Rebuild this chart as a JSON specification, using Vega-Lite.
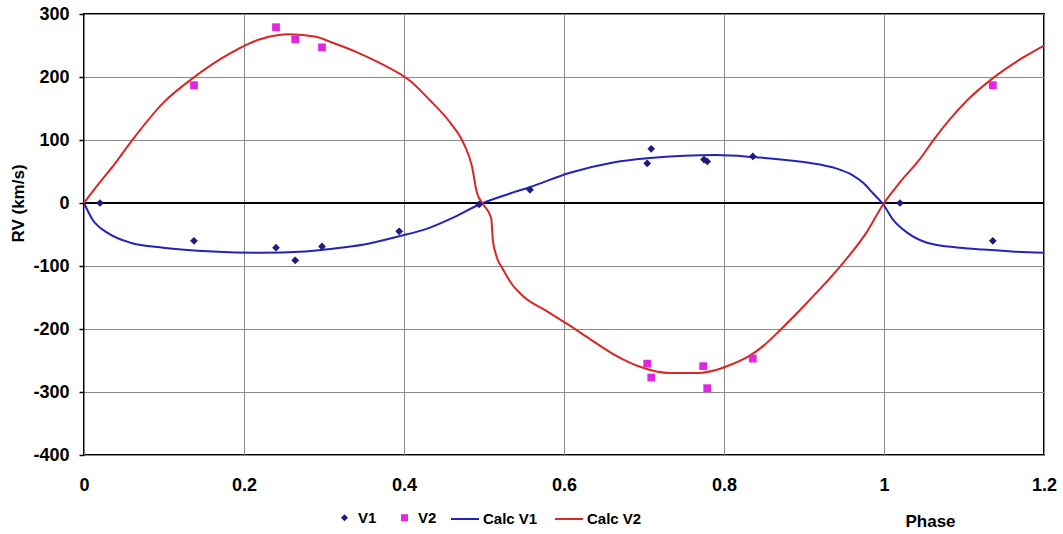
{
  "$schema": "https://vega.github.io/schema/vega-lite/v6.json",
  "width": 960,
  "height": 441,
  "autosize": {"type": "none"},
  "padding": {"left": 84, "top": 14, "right": 19, "bottom": 79},
  "background": "white",
  "config": {
    "font": "Liberation Sans",
    "view": {"stroke": "black", "strokeWidth": 2}
  },
  "data": {
    "values": [
      {"phase": 0.02, "rv": 0, "series": "V1"},
      {"phase": 0.1375, "rv": -60, "series": "V1"},
      {"phase": 0.24, "rv": -71, "series": "V1"},
      {"phase": 0.264, "rv": -91, "series": "V1"},
      {"phase": 0.2975, "rv": -69, "series": "V1"},
      {"phase": 0.394, "rv": -45, "series": "V1"},
      {"phase": 0.494, "rv": -2, "series": "V1"},
      {"phase": 0.5575, "rv": 21, "series": "V1"},
      {"phase": 0.704, "rv": 63, "series": "V1"},
      {"phase": 0.709, "rv": 86, "series": "V1"},
      {"phase": 0.775, "rv": 69, "series": "V1"},
      {"phase": 0.779, "rv": 66, "series": "V1"},
      {"phase": 0.836, "rv": 74, "series": "V1"},
      {"phase": 1.02, "rv": 0, "series": "V1"},
      {"phase": 1.136, "rv": -60, "series": "V1"},
      {"phase": 0.1375, "rv": 187, "series": "V2"},
      {"phase": 0.24, "rv": 279, "series": "V2"},
      {"phase": 0.264, "rv": 260, "series": "V2"},
      {"phase": 0.2975, "rv": 247, "series": "V2"},
      {"phase": 0.704, "rv": -255, "series": "V2"},
      {"phase": 0.709, "rv": -277, "series": "V2"},
      {"phase": 0.774, "rv": -259, "series": "V2"},
      {"phase": 0.779, "rv": -294, "series": "V2"},
      {"phase": 0.836, "rv": -247, "series": "V2"},
      {"phase": 1.136, "rv": 187, "series": "V2"},
      {"phase": 0, "rv": 0, "series": "Calc V1"},
      {"phase": 0.011, "rv": -27, "series": "Calc V1"},
      {"phase": 0.029, "rv": -47, "series": "Calc V1"},
      {"phase": 0.058, "rv": -63, "series": "Calc V1"},
      {"phase": 0.099, "rv": -71, "series": "Calc V1"},
      {"phase": 0.161, "rv": -77, "series": "Calc V1"},
      {"phase": 0.22, "rv": -79, "series": "Calc V1"},
      {"phase": 0.276, "rv": -77, "series": "Calc V1"},
      {"phase": 0.3075, "rv": -73, "series": "Calc V1"},
      {"phase": 0.35, "rv": -66, "series": "Calc V1"},
      {"phase": 0.39, "rv": -54, "series": "Calc V1"},
      {"phase": 0.4325, "rv": -39, "series": "Calc V1"},
      {"phase": 0.46, "rv": -24, "series": "Calc V1"},
      {"phase": 0.495, "rv": -2, "series": "Calc V1"},
      {"phase": 0.53, "rv": 14, "series": "Calc V1"},
      {"phase": 0.557, "rv": 25, "series": "Calc V1"},
      {"phase": 0.6075, "rv": 48, "series": "Calc V1"},
      {"phase": 0.66, "rv": 64, "series": "Calc V1"},
      {"phase": 0.704, "rv": 71, "series": "Calc V1"},
      {"phase": 0.75, "rv": 75, "series": "Calc V1"},
      {"phase": 0.79, "rv": 76, "series": "Calc V1"},
      {"phase": 0.836, "rv": 73, "series": "Calc V1"},
      {"phase": 0.88, "rv": 68, "series": "Calc V1"},
      {"phase": 0.92, "rv": 61, "series": "Calc V1"},
      {"phase": 0.94, "rv": 55, "series": "Calc V1"},
      {"phase": 0.961, "rv": 44, "series": "Calc V1"},
      {"phase": 0.974, "rv": 32, "series": "Calc V1"},
      {"phase": 0.9865, "rv": 15, "series": "Calc V1"},
      {"phase": 0.999, "rv": -2, "series": "Calc V1"},
      {"phase": 1.011, "rv": -26, "series": "Calc V1"},
      {"phase": 1.029, "rv": -47, "series": "Calc V1"},
      {"phase": 1.054, "rv": -63, "series": "Calc V1"},
      {"phase": 1.095, "rv": -71, "series": "Calc V1"},
      {"phase": 1.124, "rv": -74, "series": "Calc V1"},
      {"phase": 1.16, "rv": -77, "series": "Calc V1"},
      {"phase": 1.2, "rv": -79, "series": "Calc V1"},
      {"phase": 0, "rv": 0, "series": "Calc V2"},
      {"phase": 0.02, "rv": 33, "series": "Calc V2"},
      {"phase": 0.036, "rv": 58, "series": "Calc V2"},
      {"phase": 0.061, "rv": 101, "series": "Calc V2"},
      {"phase": 0.099, "rv": 159, "series": "Calc V2"},
      {"phase": 0.137, "rv": 199, "series": "Calc V2"},
      {"phase": 0.174, "rv": 231, "series": "Calc V2"},
      {"phase": 0.22, "rv": 260, "series": "Calc V2"},
      {"phase": 0.2575, "rv": 268, "series": "Calc V2"},
      {"phase": 0.29, "rv": 264, "series": "Calc V2"},
      {"phase": 0.3075, "rv": 256, "series": "Calc V2"},
      {"phase": 0.34, "rv": 240, "series": "Calc V2"},
      {"phase": 0.37, "rv": 222, "series": "Calc V2"},
      {"phase": 0.4075, "rv": 194, "series": "Calc V2"},
      {"phase": 0.4325, "rv": 163, "series": "Calc V2"},
      {"phase": 0.4575, "rv": 128, "series": "Calc V2"},
      {"phase": 0.474, "rv": 96, "series": "Calc V2"},
      {"phase": 0.485, "rv": 58, "series": "Calc V2"},
      {"phase": 0.491, "rv": 17, "series": "Calc V2"},
      {"phase": 0.499, "rv": -2, "series": "Calc V2"},
      {"phase": 0.509, "rv": -24, "series": "Calc V2"},
      {"phase": 0.511, "rv": -58, "series": "Calc V2"},
      {"phase": 0.515, "rv": -82, "series": "Calc V2"},
      {"phase": 0.524, "rv": -106, "series": "Calc V2"},
      {"phase": 0.535, "rv": -129, "series": "Calc V2"},
      {"phase": 0.549, "rv": -148, "series": "Calc V2"},
      {"phase": 0.579, "rv": -172, "series": "Calc V2"},
      {"phase": 0.604, "rv": -192, "series": "Calc V2"},
      {"phase": 0.6325, "rv": -216, "series": "Calc V2"},
      {"phase": 0.666, "rv": -243, "series": "Calc V2"},
      {"phase": 0.695, "rv": -260, "series": "Calc V2"},
      {"phase": 0.7325, "rv": -270, "series": "Calc V2"},
      {"phase": 0.765, "rv": -270, "series": "Calc V2"},
      {"phase": 0.79, "rv": -265, "series": "Calc V2"},
      {"phase": 0.81, "rv": -256, "series": "Calc V2"},
      {"phase": 0.83, "rv": -244, "series": "Calc V2"},
      {"phase": 0.85, "rv": -226, "series": "Calc V2"},
      {"phase": 0.87, "rv": -202, "series": "Calc V2"},
      {"phase": 0.904, "rv": -158, "series": "Calc V2"},
      {"phase": 0.945, "rv": -101, "series": "Calc V2"},
      {"phase": 0.979, "rv": -45, "series": "Calc V2"},
      {"phase": 0.999, "rv": -2, "series": "Calc V2"},
      {"phase": 1.02, "rv": 33, "series": "Calc V2"},
      {"phase": 1.045, "rv": 70, "series": "Calc V2"},
      {"phase": 1.0625, "rv": 101, "series": "Calc V2"},
      {"phase": 1.0825, "rv": 133, "series": "Calc V2"},
      {"phase": 1.104, "rv": 163, "series": "Calc V2"},
      {"phase": 1.137, "rv": 199, "series": "Calc V2"},
      {"phase": 1.174, "rv": 231, "series": "Calc V2"},
      {"phase": 1.2, "rv": 250, "series": "Calc V2"}
    ]
  },
  "encoding": {
    "x": {
      "field": "phase",
      "type": "quantitative",
      "scale": {"domain": [0, 1.2], "nice": false, "zero": false},
      "axis": {
        "values": [0, 0.2, 0.4, 0.6, 0.8, 1, 1.2],
        "labelExpr": "'' + datum.value",
        "title": "Phase",
        "titleFont": "Liberation Sans",
        "titleFontSize": 17,
        "titleFontWeight": "bold",
        "titleColor": "black",
        "titleX": 846,
        "titleY": 66,
        "titleBaseline": "middle",
        "titleAlign": "center",
        "labelFont": "Liberation Sans",
        "labelFontSize": 18,
        "labelFontWeight": "bold",
        "labelColor": "black",
        "labelPadding": 21,
        "labelFlush": false,
        "ticks": false,
        "domain": false,
        "grid": true,
        "gridColor": "#8a8a8a",
        "gridWidth": 1
      }
    },
    "y": {
      "field": "rv",
      "type": "quantitative",
      "scale": {"domain": [-400, 300], "nice": false, "zero": false},
      "axis": {
        "values": [-400, -300, -200, -100, 0, 100, 200, 300],
        "labelExpr": "'' + datum.value",
        "title": "RV (km/s)",
        "titleFont": "Liberation Sans",
        "titleFontSize": 17,
        "titleFontWeight": "bold",
        "titleColor": "black",
        "titleX": -66,
        "titleY": 189,
        "titleAngle": -90,
        "titleBaseline": "middle",
        "titleAlign": "center",
        "labelFont": "Liberation Sans",
        "labelFontSize": 18,
        "labelFontWeight": "bold",
        "labelColor": "black",
        "labelPadding": 10,
        "tickSize": 5,
        "tickColor": "black",
        "tickWidth": 1.5,
        "domain": false,
        "grid": true,
        "gridColor": "#8a8a8a",
        "gridWidth": 1
      }
    }
  },
  "layer": [
    {
      "mark": {"type": "rule", "color": "black", "strokeWidth": 1.5},
      "encoding": {"y": {"datum": 0}, "x": {"datum": 0}, "x2": {"datum": 1.2}}
    },
    {
      "transform": [{"filter": "datum.series === 'Calc V1' || datum.series === 'Calc V2'"}],
      "mark": {"type": "line", "strokeWidth": 2, "interpolate": "monotone"},
      "encoding": {
        "stroke": {
          "field": "series",
          "type": "nominal",
          "scale": {
            "domain": ["Calc V1", "Calc V2"],
            "range": ["#2323b8", "#d92626"]
          },
          "legend": {
            "title": null,
            "orient": "none",
            "legendX": 366,
            "legendY": 490,
            "direction": "horizontal",
            "symbolType": "stroke",
            "symbolSize": 784,
            "symbolStrokeWidth": 2,
            "labelFont": "Liberation Sans",
            "labelFontSize": 15,
            "labelFontWeight": "bold",
            "labelColor": "black",
            "labelOffset": 3,
            "columnPadding": 13
          }
        }
      }
    },
    {
      "transform": [{"filter": "datum.series === 'V1' || datum.series === 'V2'"}],
      "mark": {"type": "point", "filled": true, "opacity": 1, "size": 60},
      "encoding": {
        "color": {
          "field": "series",
          "type": "nominal",
          "scale": {
            "domain": ["V1", "V2"],
            "range": ["#1c1c7c", "#e026e0"]
          },
          "legend": {
            "title": null,
            "orient": "none",
            "legendX": 253,
            "legendY": 496,
            "direction": "horizontal",
            "symbolSize": 50,
            "labelFont": "Liberation Sans",
            "labelFontSize": 15,
            "labelFontWeight": "bold",
            "labelColor": "black",
            "labelOffset": 6,
            "columnPadding": 20
          }
        },
        "shape": {
          "field": "series",
          "type": "nominal",
          "scale": {
            "domain": ["V1", "V2"],
            "range": ["diamond", "square"]
          }
        }
      }
    }
  ]
}
